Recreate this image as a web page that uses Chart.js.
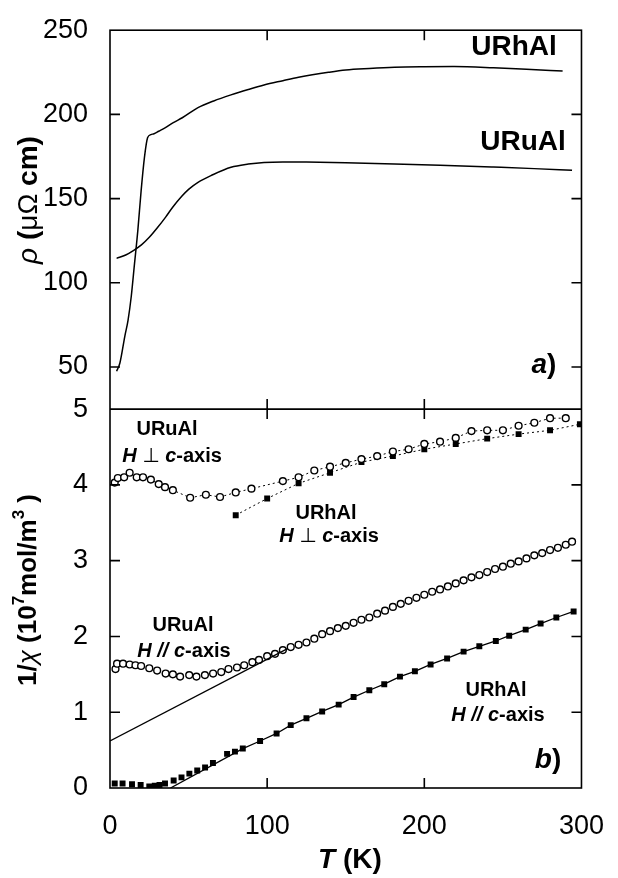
<!DOCTYPE html>
<html>
<head>
<meta charset="utf-8">
<script src="https://cdn.jsdelivr.net/npm/chart.js@4.4.1/dist/chart.umd.min.js"></script>
<style>
  body { margin: 0; background: #fff; }
  canvas { display: block; }
</style>
</head>
<body>
<canvas id="grafica"></canvas>
<script>
// a) resistividad (µΩ cm) frente a T (K)
const rhoRhT = [4.2, 6.3, 9.4, 11.5, 13.5, 15.6, 17.7, 19.8, 21.9, 23.9, 26, 28, 31, 35, 40, 46, 56, 66, 77, 88, 98, 110, 120, 139, 150, 165, 181, 200, 219, 244, 265, 288];
const rhoRh  = [47.5, 52.4, 68.1, 77.9, 91.7, 111.4, 131.0, 154.6, 174.3, 186.1, 188.0, 188.5, 190, 192, 195, 198, 204, 208, 211.6, 214.8, 217.5, 220, 222, 225, 226.4, 227.3, 228, 228.3, 228.4, 227.7, 226.8, 225.8];
const rhoRuT = [4.2, 10, 14.6, 20, 25, 30, 35.4, 40, 45.8, 50, 56, 65, 77, 88, 98, 110, 125, 150, 181, 210, 244, 270, 294];
const rhoRu  = [114.5, 116.5, 119, 122.5, 127, 132.5, 139, 145, 151.5, 155.5, 159.7, 164, 168.6, 170.5, 171.5, 171.8, 171.7, 171.3, 170.6, 169.8, 168.7, 167.8, 166.8];

// b) 1/chi (10^7 mol/m^3) frente a T (K)
const chiRuPerpT = [3, 5, 9, 12.5, 17, 21, 26, 31, 35, 40, 51, 61, 70, 80, 90, 110, 120, 130, 140, 150, 160, 170, 180, 190, 200, 210, 220, 230, 240, 250, 260, 270, 280, 290];
const chiRuPerp  = [4.03, 4.09, 4.10, 4.16, 4.10, 4.10, 4.07, 4.01, 3.97, 3.93, 3.83, 3.87, 3.84, 3.90, 3.95, 4.05, 4.10, 4.19, 4.24, 4.29, 4.34, 4.38, 4.44, 4.47, 4.54, 4.57, 4.62, 4.71, 4.72, 4.72, 4.78, 4.82, 4.88, 4.88];
const chiRhPerpT = [80, 100, 120, 140, 160, 180, 200, 220, 240, 260, 280, 299];
const chiRhPerp  = [3.60, 3.82, 4.02, 4.16, 4.30, 4.38, 4.47, 4.54, 4.61, 4.67, 4.72, 4.80];
const chiRuParT = [3.5, 4.5, 8.3, 12.5, 16.2, 19.8, 25, 30, 35.4, 40, 44.6, 50.4, 55, 60.4, 65.6, 70.8, 75.4, 80.8, 85.4, 90.6, 94.8, 100, 105, 110, 115, 120, 125, 130, 135, 140, 145, 150, 155, 160, 165, 170, 175, 180, 185, 190, 195, 200, 205, 210, 215, 220, 225, 230, 235, 240, 245, 250, 255, 260, 265, 270, 275, 280, 285, 290, 294];
const chiRuPar  = [1.57, 1.64, 1.64, 1.63, 1.62, 1.61, 1.58, 1.55, 1.51, 1.50, 1.47, 1.49, 1.47, 1.49, 1.51, 1.53, 1.57, 1.59, 1.62, 1.66, 1.69, 1.74, 1.77, 1.82, 1.86, 1.89, 1.92, 1.97, 2.03, 2.07, 2.11, 2.14, 2.18, 2.22, 2.25, 2.30, 2.34, 2.39, 2.43, 2.47, 2.51, 2.55, 2.59, 2.62, 2.66, 2.70, 2.74, 2.78, 2.81, 2.85, 2.89, 2.92, 2.96, 2.99, 3.03, 3.07, 3.10, 3.14, 3.17, 3.21, 3.25];
const ajusteRuT = [0, 113];
const ajusteRu  = [0.62, 1.84];
const chiRhParT = [3, 8, 14, 19.5, 25, 28.5, 31.5, 35, 40.5, 45.5, 50.5, 55.5, 60.5, 65.5, 74.5, 79.5, 84.5, 95.5, 106, 115, 125, 135, 145.5, 155, 165, 174.5, 184.5, 194, 204, 214.5, 225, 235, 245.5, 254, 264.5, 274, 284, 295];
const chiRhPar  = [0.06, 0.06, 0.05, 0.04, 0.02, 0.03, 0.04, 0.06, 0.10, 0.14, 0.19, 0.23, 0.27, 0.33, 0.45, 0.48, 0.52, 0.62, 0.72, 0.83, 0.92, 1.01, 1.10, 1.20, 1.29, 1.37, 1.47, 1.54, 1.63, 1.71, 1.80, 1.87, 1.94, 2.01, 2.09, 2.17, 2.25, 2.33];
const ajusteRhT = [38.5, 84.5];
const ajusteRh  = [0, 0.52];

// marcas de los ejes
const ticksT = [0, 100, 200, 300];
const ticksRho = [50, 100, 150, 200, 250];
const ticksChi = [0, 1, 2, 3, 4, 5];

const F = '"Liberation Sans", Arial, "DejaVu Sans", sans-serif';

function puntos(xs, ys) {
    return xs.map((x, i) => ({ x: x, y: ys[i] }));
}

// escribe trozos de texto con fuentes distintas, centrado en cx
function textoRico(ctx, partes, cx, cy) {
    let total = 0;
    partes.forEach(p => { ctx.font = p[1]; total += ctx.measureText(p[0]).width; });
    let x = cx - total / 2;
    ctx.textAlign = "left";
    ctx.textBaseline = "alphabetic";
    partes.forEach(p => {
        ctx.font = p[1];
        ctx.fillText(p[0], x, cy + (p[2] || 0));
        x += ctx.measureText(p[0]).width;
    });
}

const marco = {
    id: "marco",
    afterDraw(chart) {
        const ctx = chart.ctx;
        const a = chart.chartArea;
        const sx = chart.scales.x, sr = chart.scales.rho, sc = chart.scales.chi;
        const medio = sr.bottom;
        const L = 10;
        ctx.save();
        ctx.strokeStyle = "#000";
        ctx.fillStyle = "#000";
        ctx.lineWidth = 1.6;
        ctx.strokeRect(a.left, a.top, a.right - a.left, a.bottom - a.top);
        ctx.beginPath();
        ctx.moveTo(a.left, medio);
        ctx.lineTo(a.right, medio);
        // marcas hacia dentro
        ticksT.slice(1, -1).forEach(v => {
            const px = sx.getPixelForValue(v);
            ctx.moveTo(px, a.top); ctx.lineTo(px, a.top + L);
            ctx.moveTo(px, medio - L); ctx.lineTo(px, medio + L);
            ctx.moveTo(px, a.bottom); ctx.lineTo(px, a.bottom - L);
        });
        ticksRho.slice(0, -1).forEach(v => {
            const py = sr.getPixelForValue(v);
            ctx.moveTo(a.left, py); ctx.lineTo(a.left + L, py);
            ctx.moveTo(a.right, py); ctx.lineTo(a.right - L, py);
        });
        ticksChi.slice(1, -1).forEach(v => {
            const py = sc.getPixelForValue(v);
            ctx.moveTo(a.left, py); ctx.lineTo(a.left + L, py);
            ctx.moveTo(a.right, py); ctx.lineTo(a.right - L, py);
        });
        ctx.stroke();

        const b28 = "bold 28px " + F, bi28 = "italic bold 28px " + F;
        const b20 = "bold 20px " + F, bi20 = "italic bold 20px " + F, r20 = "20px " + F;

        // panel a)
        textoRico(ctx, [["URhAl", b28]], 514, 55);
        textoRico(ctx, [["URuAl", b28]], 523, 150);
        textoRico(ctx, [["a", bi28], [")", b28]], 544, 373);

        // panel b)
        textoRico(ctx, [["URuAl", b20]], 167, 435);
        textoRico(ctx, [["H", bi20], [" ⊥ ", r20], ["c", bi20], ["-axis", b20]], 172, 462);
        textoRico(ctx, [["URhAl", b20]], 326, 519);
        textoRico(ctx, [["H", bi20], [" ⊥ ", r20], ["c", bi20], ["-axis", b20]], 329, 542);
        textoRico(ctx, [["URuAl", b20]], 183, 631);
        textoRico(ctx, [["H", bi20], [" // ", bi20], ["c", bi20], ["-axis", b20]], 184, 657);
        textoRico(ctx, [["URhAl", b20]], 496, 696);
        textoRico(ctx, [["H", bi20], [" // ", bi20], ["c", bi20], ["-axis", b20]], 498, 721);
        textoRico(ctx, [["b", bi28], [")", b28]], 548, 768);

        // títulos de los ejes
        textoRico(ctx, [["T", bi28], [" (K)", b28]], 350, 868);

        ctx.save();
        ctx.translate(37, 200);
        ctx.rotate(-Math.PI / 2);
        textoRico(ctx, [["ρ", "italic 28px " + F], [" (", b28], ["μΩ", "28px " + F], [" cm)", b28]], 0, 0);
        ctx.restore();

        const b26 = "bold 26px " + F, s16 = "bold 17px " + F;
        ctx.save();
        ctx.translate(36, 590);
        ctx.rotate(-Math.PI / 2);
        textoRico(ctx, [["1/", b26], ["χ", "italic 26px " + F], [" (10", b26], ["7", s16, -12], ["mol/m", b26], ["3", s16, -12], [" )", b26]], 0, 0);
        ctx.restore();

        ctx.restore();
    }
};

const canvas = document.getElementById("grafica");
canvas.width = 618;
canvas.height = 878;

const fuenteTicks = { family: F, size: 27 };

new Chart(canvas, {
    type: "scatter",
    data: {
        datasets: [
            {
                data: puntos(rhoRhT, rhoRh), yAxisID: "rho",
                showLine: true, borderColor: "#000", borderWidth: 1.5, pointRadius: 0,
                cubicInterpolationMode: "monotone"
            },
            {
                data: puntos(rhoRuT, rhoRu), yAxisID: "rho",
                showLine: true, borderColor: "#000", borderWidth: 1.5, pointRadius: 0,
                cubicInterpolationMode: "monotone"
            },
            {
                data: puntos(chiRuPerpT, chiRuPerp), yAxisID: "chi",
                showLine: true, borderColor: "#000", borderWidth: 1, borderDash: [2, 3],
                pointStyle: "circle", pointRadius: 3.4, pointBorderWidth: 1.4,
                pointBackgroundColor: "#fff", pointBorderColor: "#000"
            },
            {
                data: puntos(chiRhPerpT, chiRhPerp), yAxisID: "chi",
                showLine: true, borderColor: "#000", borderWidth: 1, borderDash: [2, 3],
                pointStyle: "rect", pointRadius: 4.2, pointBorderWidth: 0,
                pointBackgroundColor: "#000"
            },
            {
                data: puntos(ajusteRuT, ajusteRu), yAxisID: "chi",
                showLine: true, borderColor: "#000", borderWidth: 1.3, pointRadius: 0
            },
            {
                data: puntos(chiRuParT, chiRuPar), yAxisID: "chi",
                showLine: false, pointStyle: "circle", pointRadius: 3.4, pointBorderWidth: 1.4,
                pointBackgroundColor: "#fff", pointBorderColor: "#000"
            },
            {
                data: puntos(ajusteRhT, ajusteRh), yAxisID: "chi",
                showLine: true, borderColor: "#000", borderWidth: 1.3, pointRadius: 0
            },
            {
                data: puntos(chiRhParT, chiRhPar), yAxisID: "chi",
                showLine: true, borderWidth: 1.3,
                segment: { borderColor: c => c.p0.parsed.x < 84 ? "rgba(0,0,0,0)" : "#000" },
                pointStyle: "rect", pointRadius: 4.2, pointBorderWidth: 0,
                pointBackgroundColor: "#000"
            }
        ]
    },
    options: {
        responsive: false,
        animation: false,
        layout: { padding: { top: 25, right: 28, left: 0, bottom: 0 } },
        plugins: { legend: { display: false }, tooltip: { enabled: false } },
        scales: {
            x: {
                type: "linear", min: 0, max: 300,
                afterBuildTicks: s => { s.ticks = ticksT.map(v => ({ value: v })); },
                ticks: { font: fuenteTicks, color: "#000", padding: 14, maxRotation: 0, autoSkip: false },
                grid: { display: false }, border: { display: false },
                afterFit: s => { s.height = 90; }
            },
            chi: {
                type: "linear", position: "left", stack: "paneles", stackWeight: 1,
                min: 0, max: 5,
                afterBuildTicks: s => { s.ticks = ticksChi.map(v => ({ value: v })); },
                ticks: { font: fuenteTicks, color: "#000", padding: 14, autoSkip: false },
                grid: { display: false }, border: { display: false },
                afterFit: s => { s.width = 110; }
            },
            rho: {
                type: "linear", position: "left", stack: "paneles", stackWeight: 1,
                min: 25, max: 250,
                afterBuildTicks: s => { s.ticks = ticksRho.map(v => ({ value: v })); },
                ticks: { font: fuenteTicks, color: "#000", padding: 14, autoSkip: false },
                grid: { display: false }, border: { display: false },
                afterFit: s => { s.width = 110; }
            }
        }
    },
    plugins: [marco]
});
</script>
</body>
</html>
